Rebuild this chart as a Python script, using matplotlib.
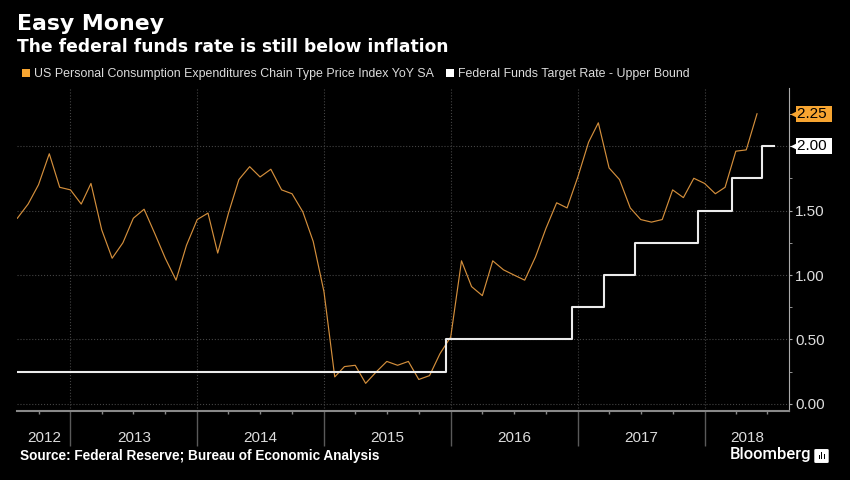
import numpy as np
import pandas as pd
import matplotlib
matplotlib.use('Agg')
import matplotlib.pyplot as plt
import matplotlib.dates as mdates
from matplotlib.patches import Rectangle, FancyBboxPatch
from matplotlib.ticker import MultipleLocator, FuncFormatter
from matplotlib.transforms import blended_transform_factory, ScaledTranslation

# PCE price index YoY, monthly from Aug 2012 to Jun 2018
pce_start = '2012-08-01'
pce = [1.44, 1.55, 1.70, 1.94, 1.68, 1.66, 1.55, 1.71, 1.35, 1.13,
       1.25, 1.44, 1.51, 1.32, 1.13, 0.96, 1.23, 1.43, 1.48, 1.17,
       1.48, 1.74, 1.84, 1.76, 1.82, 1.66, 1.63, 1.49, 1.26, 0.87,
       0.21, 0.29, 0.30, 0.16, 0.25, 0.33, 0.30, 0.33, 0.19, 0.22,
       0.39, 0.52, 1.11, 0.91, 0.84, 1.11, 1.04, 1.00, 0.96, 1.14,
       1.36, 1.56, 1.52, 1.76, 2.03, 2.18, 1.83, 1.74, 1.52, 1.43,
       1.41, 1.43, 1.66, 1.60, 1.75, 1.71, 1.63, 1.68, 1.96, 1.97,
       2.25]

# fed funds target, upper bound (date of change -> level)
ff_dates = ['2012-08-01', '2015-12-17', '2016-12-15', '2017-03-16',
            '2017-06-15', '2017-12-14', '2018-03-22', '2018-06-14',
            '2018-07-20']
ff_levels = [0.25, 0.50, 0.75, 1.00, 1.25, 1.50, 1.75, 2.00, 2.00]

years = [2012, 2013, 2014, 2015, 2016, 2017, 2018]
yticks = [0.0, 0.5, 1.0, 1.5, 2.0]

pce_label = 'US Personal Consumption Expenditures Chain Type Price Index YoY SA'
ff_label = 'Federal Funds Target Rate - Upper Bound'

pce_color = '#d48f3c'
box_orange = '#f7a531'
ff_color = '#ececec'
txt = '#dcdcdc'
font = 'Liberation Sans'

pce_dates = pd.date_range(pce_start, periods=len(pce), freq='MS')
ff_d = pd.to_datetime(ff_dates)
x0 = pd.Timestamp('2012-08-01')
x1 = pd.Timestamp('2018-09-01')

fig = plt.figure(figsize=(8.5, 4.8), dpi=100, facecolor='black')
ax = fig.add_axes([0.0204, 0.1444, 0.9078, 0.6723])
ax.set_facecolor('black')

ax.plot(pce_dates, pce, color=pce_color, lw=0.85)
ax.plot(ff_d, ff_levels, color=ff_color, lw=1.5, drawstyle='steps-post')

ax.set_xlim(x0, x1)
ax.set_ylim(-0.052, 2.45)

# x axis: year separators + quarterly minor ticks
ax.xaxis.set_major_locator(mdates.YearLocator())
ax.xaxis.set_minor_locator(mdates.MonthLocator(bymonth=[4, 7, 10]))
ax.xaxis.set_major_formatter(plt.NullFormatter())
ax.xaxis.set_minor_formatter(plt.NullFormatter())
ax.tick_params(axis='x', which='major', length=25, color='#5a5a5a', width=1)
ax.tick_params(axis='x', which='minor', length=2.2, color='#888888', width=1)
ax.grid(axis='x', which='major', ls=':', color='#444444', lw=0.8)

for yr in years:
    a = max(pd.Timestamp(f'{yr}-01-01'), x0)
    b = min(pd.Timestamp(f'{yr + 1}-01-01'), x1)
    mid = a + (b - a) / 2
    ax.text(mid, -0.084, str(yr), transform=ax.get_xaxis_transform(),
            ha='center', va='center', color=txt, fontsize=11, family=font)

# y axis on the right
ax.yaxis.tick_right()
ax.set_yticks(yticks)
ax.yaxis.set_minor_locator(MultipleLocator(0.25))
ax.yaxis.set_major_formatter(FuncFormatter(
    lambda v, p: '' if abs(v - ff_levels[-1]) < 1e-6 else f'{v:.2f}'))
ax.tick_params(axis='y', which='major', length=2.5, color='#aaaaaa',
               labelcolor=txt, labelsize=11, pad=2)
ax.tick_params(axis='y', which='minor', length=2.5, color='#aaaaaa')
for lab in ax.get_yticklabels():
    lab.set_family(font)
ax.grid(axis='y', which='major', ls=':', color='#444444', lw=0.8)

for s in ['top', 'left']:
    ax.spines[s].set_visible(False)
ax.spines['right'].set_color('#aaaaaa')
ax.spines['bottom'].set_color('#888888')
ax.spines['bottom'].set_linewidth(1.5)

# last value tags
blend = blended_transform_factory(ax.transAxes, ax.transData)
for val, fc in [(pce[-1], box_orange), (ff_levels[-1], 'white')]:
    ax.plot([1], [val], marker='<', ms=7, color=fc, mec='none', clip_on=False,
            transform=blend + ScaledTranslation(4.5 / 72, 0, fig.dpi_scale_trans))
    ax.annotate(f'{val:.2f} ', xy=(1, val), xycoords=blend, xytext=(5.6, 0),
                textcoords='offset points', ha='left', va='center',
                fontsize=11, family=font, color='black', zorder=5,
                bbox=dict(boxstyle='square,pad=0.06', fc=fc, ec='none'))

# titles
fig.text(17 / 850, 1 - 30 / 480, 'Easy Money', color='white', fontsize=15.8,
         fontweight='bold', va='baseline')
fig.text(17 / 850, 1 - 52.5 / 480, 'The federal funds rate is still below inflation',
         color='white', fontsize=12.3, fontweight='bold', va='baseline')

handles = [Rectangle((0, 0), 1, 1, fc=box_orange, ec='none'),
           Rectangle((0, 0), 1, 1, fc='white', ec='none')]
leg = fig.legend(handles, [pce_label, ff_label], loc='center left',
                 bbox_to_anchor=(22 / 850, 1 - 74 / 480), ncol=2, frameon=False,
                 handlelength=0.65, handleheight=0.65, handletextpad=0.3,
                 columnspacing=1.0, borderpad=0, borderaxespad=0,
                 prop={'family': font, 'size': 8.9})
for t in leg.get_texts():
    t.set_color(txt)

fig.text(20 / 850, 1 - 456 / 480, 'Source: Federal Reserve; Bureau of Economic Analysis',
         color='white', fontsize=9.8, fontweight='bold', family=font, va='center')
fig.text(811 / 850, 1 - 455 / 480, 'Bloomberg', color='white', fontsize=12,
         family='Roboto', fontweight='medium', ha='right', va='center')
fig.patches.append(FancyBboxPatch((816 / 850, 1 - 462 / 480), 11 / 850, 12 / 480,
                                  boxstyle='round,pad=0.002', fc='white', ec='none',
                                  transform=fig.transFigure))
for bx, bh in [(818.5, 4), (821, 7), (823.5, 5)]:
    fig.patches.append(Rectangle((bx / 850, 1 - 459 / 480), 1.3 / 850, bh / 480,
                                 fc='black', ec='none', transform=fig.transFigure))

fig.savefig('out.png', dpi=100, facecolor='black')
